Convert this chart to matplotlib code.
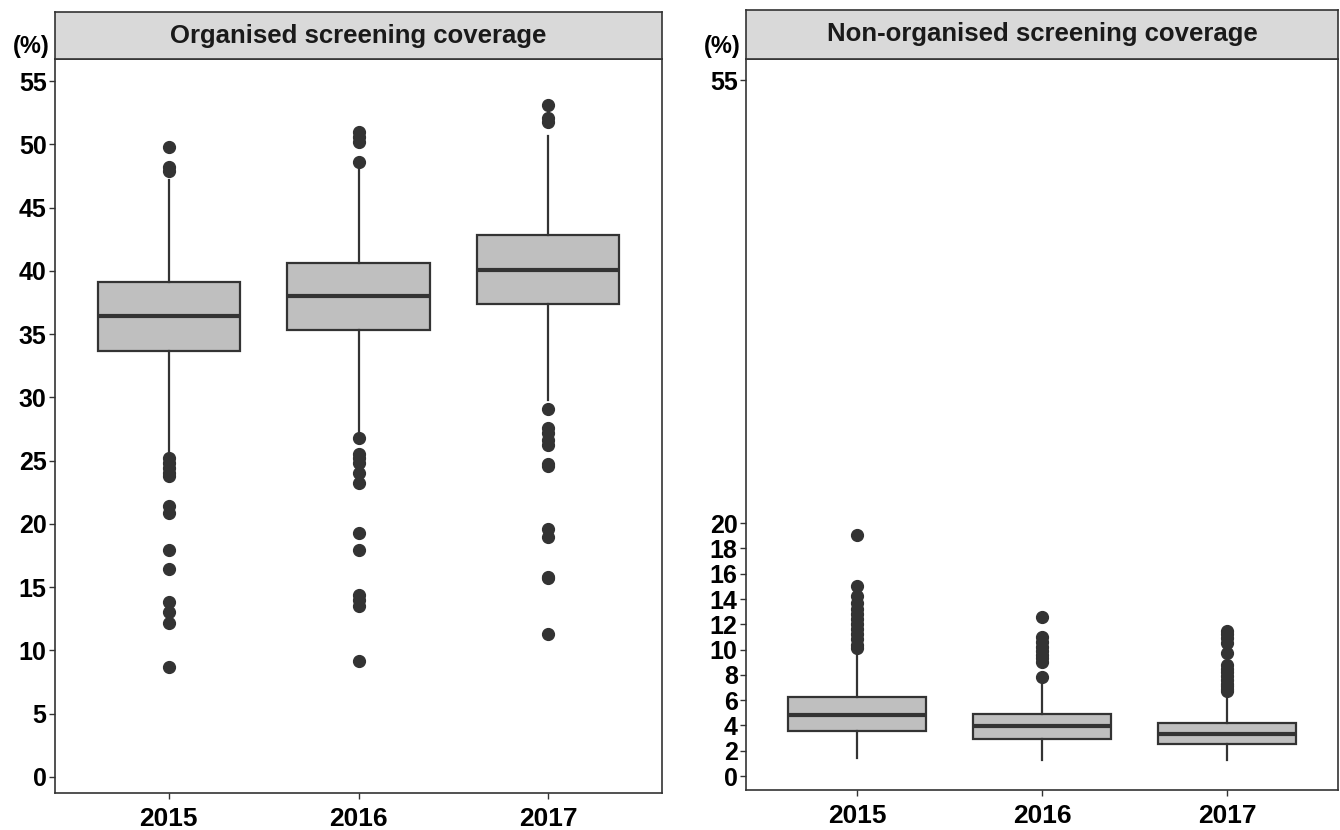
import matplotlib
matplotlib.use("Agg")
import matplotlib.pyplot as plt

years = ["2015", "2016", "2017"]

# Organised screening coverage (%)
org_q1 = [33.7, 35.3, 37.4]
org_med = [36.4, 38.0, 40.1]
org_q3 = [39.1, 40.6, 42.8]
org_wlo = [25.5, 27.2, 29.8]
org_whi = [47.2, 48.1, 50.7]
org_fliers = [
    [49.8, 48.2, 47.9, 25.2, 24.8, 24.4, 24.0, 23.8, 21.4, 20.9, 17.9, 16.4, 13.8, 13.0, 12.2, 8.7],
    [51.0, 50.6, 50.2, 48.6, 26.8, 25.5, 25.2, 24.8, 24.0, 23.2, 19.3, 17.9, 14.4, 14.0, 13.5, 9.2],
    [53.1, 52.1, 51.8, 29.1, 27.6, 27.2, 26.6, 26.2, 24.7, 24.6, 19.6, 19.0, 15.8, 15.7, 11.3],
]

# Non-organised screening coverage (%)
non_q1 = [3.57, 2.94, 2.54]
non_med = [4.84, 3.97, 3.33]
non_q3 = [6.27, 4.90, 4.20]
non_wlo = [1.43, 1.27, 1.27]
non_whi = [10.0, 7.6, 6.6]
non_fliers = [
    [19.1, 15.0, 14.2, 13.7, 13.2, 12.8, 12.4, 12.0, 11.6, 11.2, 10.8, 10.4, 10.1],
    [12.6, 11.0, 10.6, 10.2, 9.9, 9.6, 9.3, 9.0, 7.8],
    [11.5, 11.2, 10.9, 10.5, 9.7, 8.8, 8.5, 8.2, 7.9, 7.6, 7.3, 7.1, 6.9, 6.7],
]

org_ticks = [0, 5, 10, 15, 20, 25, 30, 35, 40, 45, 50, 55]
non_ticks = [0, 2, 4, 6, 8, 10, 12, 14, 16, 18, 20, 55]
titles = ["Organised screening coverage", "Non-organised screening coverage"]

plt.rcParams['font.family'] = ['Liberation Sans', 'DejaVu Sans']

fig = plt.figure(figsize=(13.4, 8.3), dpi=100)
W, H = 1340, 830

def fx(px):
    return px / W

def fy(py):
    return 1 - py / H

edge = "#333333"
fill = "#BFBFBF"

panels = [
    dict(x0=55, x1=662, ybot=793, ytop=59, strip_top=12, pct_x=31,
         q1=org_q1, med=org_med, q3=org_q3, wlo=org_wlo, whi=org_whi, fl=org_fliers,
         ticks=org_ticks, ylim=(-1.27, 56.75), title=titles[0]),
    dict(x0=746, x1=1338, ybot=790, ytop=59, strip_top=10, pct_x=722,
         q1=non_q1, med=non_med, q3=non_q3, wlo=non_wlo, whi=non_whi, fl=non_fliers,
         ticks=non_ticks, ylim=(-1.1, 56.7), title=titles[1]),
]

for p in panels:
    ax = fig.add_axes([fx(p["x0"]), fy(p["ybot"]), fx(p["x1"] - p["x0"]),
                       (p["ybot"] - p["ytop"]) / H])
    stats = []
    for i in range(3):
        stats.append(dict(med=p["med"][i], q1=p["q1"][i], q3=p["q3"][i],
                          whislo=p["wlo"][i], whishi=p["whi"][i],
                          fliers=p["fl"][i], label=years[i]))
    ax.bxp(stats, positions=[1, 2, 3], widths=0.75, patch_artist=True,
           showcaps=False,
           boxprops=dict(facecolor=fill, edgecolor=edge, linewidth=1.6),
           medianprops=dict(color=edge, linewidth=3.0),
           whiskerprops=dict(color=edge, linewidth=1.6),
           flierprops=dict(marker='o', markerfacecolor=edge, markeredgecolor=edge,
                           markersize=8.5, linestyle='none'))
    ax.set_xlim(0.4, 3.6)
    ax.set_ylim(*p["ylim"])
    ax.set_yticks(p["ticks"])
    ax.set_yticklabels([str(t) for t in p["ticks"]], fontsize=18, fontweight='bold')
    ax.set_xticks([1, 2, 3])
    ax.set_xticklabels(years, fontsize=19, fontweight='bold')
    ax.tick_params(axis='both', direction='out', length=4, width=1.0, color=edge,
                   labelcolor='black', pad=2)
    ax.tick_params(axis='x', pad=6)
    for s in ax.spines.values():
        s.set_color(edge)
        s.set_linewidth(1.2)
    ax.set_facecolor('white')

    sax = fig.add_axes([fx(p["x0"]), fy(p["ytop"]), fx(p["x1"] - p["x0"]),
                        (p["ytop"] - p["strip_top"]) / H])
    sax.set_facecolor("#D9D9D9")
    sax.set_xticks([])
    sax.set_yticks([])
    for s in sax.spines.values():
        s.set_color(edge)
        s.set_linewidth(1.2)
    sax.text(0.5, 0.5, p["title"], ha='center', va='center', fontsize=18.5,
             fontweight='bold', color='#1a1a1a', transform=sax.transAxes)
    fig.text(fx(p["pct_x"]), fy(47), "(%)", ha='center', va='center',
             fontsize=17, fontweight='bold')

fig.savefig("out.png", dpi=100, facecolor='white')
